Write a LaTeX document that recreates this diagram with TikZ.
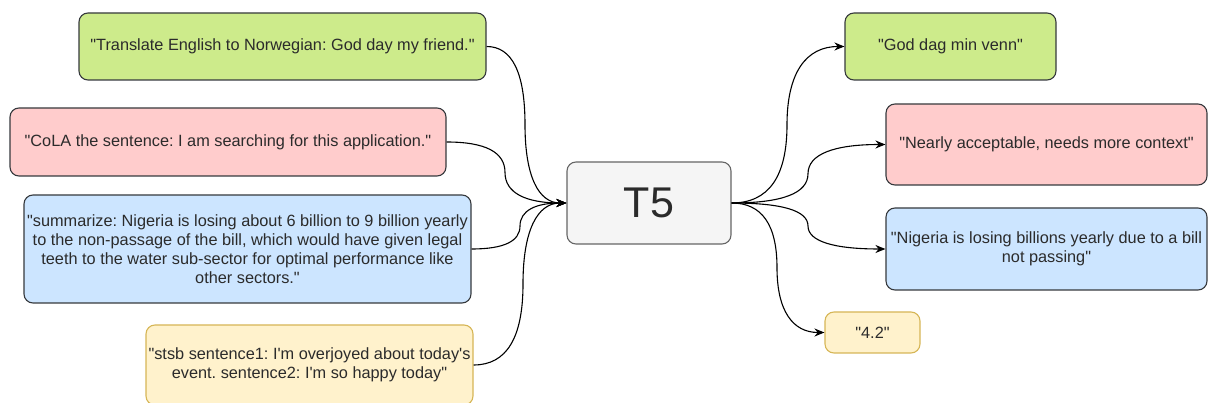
\documentclass[tikz,border=0pt]{standalone}
\usepackage{fontspec}
\setmainfont{Liberation Sans}[Ligatures=TeXOff]
\frenchspacing
\usetikzlibrary{arrows.meta,calc}

\definecolor{greenfill}{HTML}{CDEB8B}
\definecolor{pinkfill}{HTML}{FFCCCC}
\definecolor{bluefill}{HTML}{CCE5FF}
\definecolor{yellowfill}{HTML}{FFF2CC}
\definecolor{yellowline}{HTML}{D6B656}
\definecolor{darkline}{HTML}{36393D}
\definecolor{greyfill}{HTML}{F5F5F5}
\definecolor{greyline}{HTML}{666666}
\definecolor{textgrey}{HTML}{2B2B2B}

\tikzset{
  box/.style={draw=darkline, line width=1.1pt, rounded corners=9pt,
    inner sep=0pt, align=center, text=textgrey,
    font=\fontsize{16.3}{19}\selectfont},
  greenbox/.style={box, fill=greenfill},
  pinkbox/.style={box, fill=pinkfill},
  bluebox/.style={box, fill=bluefill},
  yellowbox/.style={box, fill=yellowfill, draw=yellowline},
  modelbox/.style={box, fill=greyfill, draw=greyline, text=textgrey,
    font=\fontsize{43}{50}\selectfont},
  conn/.style={draw=black, line width=1.1pt,
    -{Stealth[length=10pt,width=8pt]}},
  % smooth elbow: horizontal out, vertical run at x=#1, horizontal in
  link/.style={
    to path={
      let \p1=(\tikztostart), \p2=(\tikztotarget) in
      .. controls ({\x1+2/3*(#1pt-\x1)},\y1)
              and (#1pt,{(\y1+\y2)/2+(\y1-\y2)/3})
      .. (#1pt,{(\y1+\y2)/2})
      .. controls (#1pt,{(\y1+\y2)/2+(\y2-\y1)/3})
              and ({\x2+2/3*(#1pt-\x2)},\y2)
      .. (\tikztotarget)}},
}

\begin{document}
\begin{tikzpicture}[x=1pt,y=-1pt]
\useasboundingbox (0,0) rectangle (1208,403);

% inputs
\node[greenbox, minimum width=407pt, minimum height=67pt] (inA) at (282.5,46.5)
  {"Translate English to Norwegian: God day my friend."};
\node[pinkbox, minimum width=436pt, minimum height=68pt] (inB) at (228,142)
  {"CoLA the sentence: I am searching for this application."};
\node[bluebox, minimum width=447pt, minimum height=108pt] (inC) at (247.5,249)
  {"summarize: Nigeria is losing about 6 billion to 9 billion yearly\\
   to the non-passage of the bill, which would have given legal\\
   teeth to the water sub-sector for optimal performance like\\
   other sectors."};
\node[yellowbox, minimum width=327pt, minimum height=80pt] (inD) at (309.5,365)
  {"stsb sentence1: I'm overjoyed about today's\\
   event. sentence2: I'm so happy today"};

% model
\node[modelbox, minimum width=164pt, minimum height=82pt] (t5) at (649,203) {T5};

% outputs
\node[greenbox, minimum width=211pt, minimum height=67pt] (outA) at (950.5,46.5)
  {"God dag min venn"};
\node[pinkbox, minimum width=321pt, minimum height=81pt] (outB) at (1046.5,144.5)
  {"Nearly acceptable, needs more context"};
\node[bluebox, minimum width=321pt, minimum height=82pt] (outC) at (1046.5,249)
  {"Nigeria is losing billions yearly due to a bill\\ not passing"};
\node[yellowbox, minimum width=95pt, minimum height=41pt] (outD) at (872.5,332.5)
  {"4.2"};

% connectors into the model
\draw[conn] (inA.east) to[link=525] (t5.west);
\draw[conn] (inB.east) to[link=505] (t5.west);
\draw[conn] (inC.east) to[link=520] (t5.west);
\draw[conn] (inD.east) to[link=523] (t5.west);

% connectors out of the model
\draw[conn] (t5.east) to[link=787] (outA.west);
\draw[conn] (t5.east) to[link=808] (outB.west);
\draw[conn] (t5.east) to[link=808] (outC.west);
\draw[conn] (t5.east) to[link=777] (outD.west);
\end{tikzpicture}
\end{document}
